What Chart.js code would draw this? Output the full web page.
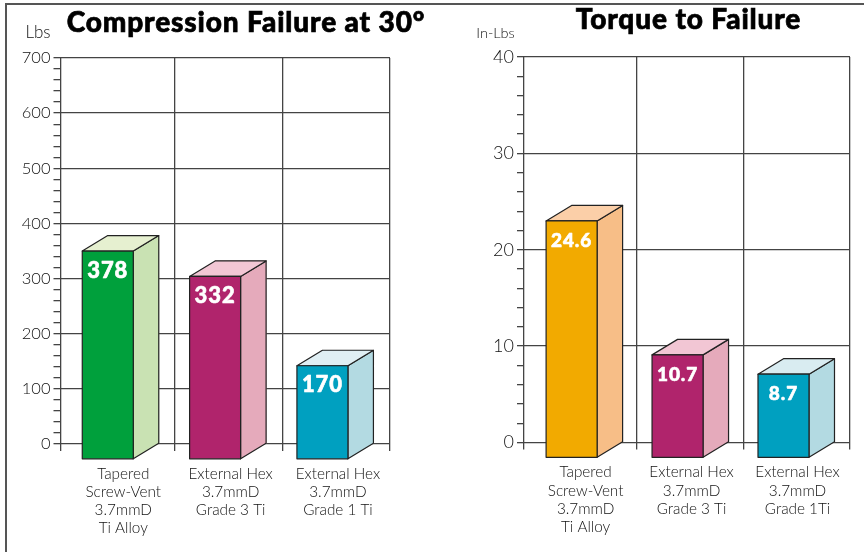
<!DOCTYPE html>
<html>
<head>
<meta charset="utf-8">
<title>Compression Failure and Torque to Failure</title>
<script src="https://cdn.jsdelivr.net/npm/chart.js@4/dist/chart.umd.min.js"></script>
<style>
  html, body { margin: 0; padding: 0; background: #fff; }
  #page { position: relative; width: 864px; height: 552px; overflow: hidden; }
  #frame { position: absolute; left: 5px; top: 3px; right: -5px; bottom: -5px; border-left: 2px solid #555; border-top: 2px solid #555; }
  .box { position: absolute; top: 0; width: 432px; height: 552px; }
  canvas { display: block; }
</style>
</head>
<body>
<div id="page">
  <div id="frame"></div>
  <div class="box" style="left:0"><canvas id="compression" width="432" height="552"></canvas></div>
  <div class="box" style="left:432px"><canvas id="torque" width="432" height="552"></canvas></div>
</div>
<script>
const compressionCategories = [
  ['Tapered', 'Screw-Vent', '3.7mmD', 'Ti Alloy'],
  ['External Hex', '3.7mmD', 'Grade 3 Ti'],
  ['External Hex', '3.7mmD', 'Grade 1 Ti']
];
const torqueCategories = [
  ['Tapered', 'Screw-Vent', '3.7mmD', 'Ti Alloy'],
  ['External Hex', '3.7mmD', 'Grade 3 Ti'],
  ['External Hex', '3.7mmD', 'Grade 1Ti']
];
const compressionValues = [378, 332, 170];
const torqueValues = [24.6, 10.7, 8.7];

const compressionFront = ['#00A03C', '#B0246C', '#00A0C0'];
const compressionSide = ['#C9E2B3', '#E5AABB', '#B3DAE2'];
const compressionTop = ['#E6F0D0', '#F2C6D4', '#E0EFF4'];
const torqueFront = ['#F2AA00', '#B0246C', '#00A0C0'];
const torqueSide = ['#F7BE87', '#E5AABB', '#B3DAE2'];
const torqueTop = ['#FBCFA8', '#F2C6D4', '#D9ECF1'];

const lightFont = 'Lato';
const heavyFont = 'Lato';
const depthX = 25.5;
const depthY = 15.5;

// the chart bar is the back of the box, the other faces hang off its coordinates
const boxPlugin = {
  id: 'box',
  afterDatasetsDraw(chart, args, opts) {
    const ctx = chart.ctx;
    const meta = chart.getDatasetMeta(0);
    ctx.save();
    ctx.lineJoin = 'round';
    meta.data.forEach((bar, i) => {
      const p = bar.getProps(['x', 'y', 'base', 'width'], true);
      const l = p.x - p.width / 2;
      const r = p.x + p.width / 2;
      const face = (color, pts) => {
        ctx.beginPath();
        pts.forEach((q, n) => n ? ctx.lineTo(q[0], q[1]) : ctx.moveTo(q[0], q[1]));
        ctx.closePath();
        ctx.fillStyle = color;
        ctx.fill();
        ctx.stroke();
      };
      ctx.lineWidth = 1.2;
      ctx.strokeStyle = '#222';
      face(opts.side[i], [[r - depthX, p.y + depthY], [r, p.y], [r, p.base], [r - depthX, p.base + depthY]]);
      face(opts.top[i], [[l - depthX, p.y + depthY], [l, p.y], [r, p.y], [r - depthX, p.y + depthY]]);
      face(opts.front[i], [[l - depthX, p.y + depthY], [r - depthX, p.y + depthY], [r - depthX, p.base + depthY], [l - depthX, p.base + depthY]]);
      ctx.fillStyle = '#fff';
      ctx.strokeStyle = '#fff';
      ctx.lineWidth = 0.6;
      ctx.font = '900 ' + opts.valueSize + 'px ' + heavyFont;
      ctx.letterSpacing = '0.9px';
      ctx.textAlign = 'center';
      ctx.textBaseline = 'middle';
      ctx.fillText(String(opts.values[i]), p.x - depthX, p.y + depthY + 19.5);
      ctx.strokeText(String(opts.values[i]), p.x - depthX, p.y + depthY + 19.5);
      ctx.letterSpacing = '0px';
    });
    ctx.restore();
  },
  afterDraw(chart, args, opts) {
    const ctx = chart.ctx;
    ctx.save();
    ctx.fillStyle = '#000';
    ctx.strokeStyle = '#000';
    ctx.lineWidth = 0.7;
    ctx.textAlign = 'center';
    ctx.textBaseline = 'alphabetic';
    ctx.font = '900 ' + opts.titleSize + 'px ' + heavyFont;
    ctx.letterSpacing = '0.88px';
    ctx.fillText(opts.title, opts.titleX, opts.titleY);
    ctx.strokeText(opts.title, opts.titleX, opts.titleY);
    ctx.letterSpacing = '0px';
    ctx.fillStyle = '#111';
    ctx.font = '300 ' + opts.unitSize + 'px ' + lightFont;
    ctx.fillText(opts.unit, opts.unitX, 38);
    ctx.restore();
  }
};

function makeChart(id, s) {
  // the scale asks once without a tick, so guard for that
  const isDivider = c => c.tick && !Number.isInteger(c.tick.value);
  const isMajor = c => c.tick && c.tick.value % s.major === 0;
  return new Chart(document.getElementById(id), {
    type: 'bar',
    data: {
      datasets: [{
        data: s.values.map((v, i) => ({ x: i, y: v })),
        backgroundColor: s.side,
        barThickness: 51
      }]
    },
    plugins: [boxPlugin],
    options: {
      responsive: false,
      animation: false,
      layout: { padding: { top: s.top, right: s.right, bottom: 0, left: 0 } },
      plugins: {
        legend: { display: false },
        tooltip: { enabled: false },
        box: {
          side: s.side, top: s.topFace, front: s.front, values: s.values,
          valueSize: s.valueSize, title: s.title, titleSize: s.titleSize,
          titleX: s.titleX, titleY: s.titleY, unit: s.unit, unitX: s.unitX, unitSize: s.unitSize
        }
      },
      scales: {
        x: {
          type: 'linear',
          offset: false,
          min: s.xMin,
          max: s.xMax,
          afterBuildTicks(scale) {
            scale.ticks = [s.xMin, 0, s.dividers[0], 1, s.dividers[1], 2, s.xMax].map(v => ({ value: v }));
          },
          afterFit(scale) { scale.height = s.xHeight; },
          border: { display: false },
          grid: {
            offset: false,
            color: c => isDivider(c) ? '#444' : 'transparent',
            tickColor: c => isDivider(c) ? '#444' : 'transparent',
            lineWidth: 1.3,
            tickLength: 7
          },
          ticks: {
            autoSkip: false,
            maxRotation: 0,
            labelOffset: s.labelOffset,
            padding: 14,
            color: '#111',
            font: { family: lightFont, weight: 300, size: 15.3, lineHeight: 1.18 },
            callback: v => Number.isInteger(v) ? s.categories[v] : ''
          }
        },
        y: {
          min: 0,
          max: s.yMax,
          afterBuildTicks(scale) {
            const t = [];
            for (let v = 0; v <= s.yMax; v += s.minor) t.push({ value: v });
            scale.ticks = t;
          },
          afterFit(scale) { scale.width = s.yWidth; },
          border: { display: false },
          grid: {
            color: c => isMajor(c) ? '#444' : 'transparent',
            tickColor: '#444',
            lineWidth: 1.3,
            tickLength: 7
          },
          ticks: {
            autoSkip: false,
            padding: 3,
            color: '#111',
            font: { family: lightFont, weight: 300, size: s.tickSize },
            callback: v => v % s.major === 0 ? String(v) : ''
          }
        }
      }
    }
  });
}

makeChart('compression', {
  values: compressionValues, categories: compressionCategories,
  front: compressionFront, side: compressionSide, topFace: compressionTop,
  title: 'Compression Failure at 30°', titleSize: 28, titleX: 246, titleY: 32,
  unit: 'Lbs', unitX: 38, unitSize: 17, valueSize: 22, tickSize: 16.5,
  top: 58, right: 42, xHeight: 108, labelOffset: -10, yWidth: 60.5,
  xMin: -0.678, xMax: 2.392, dividers: [0.384, 1.39],
  yMax: 700, major: 100, minor: 20
});

makeChart('torque', {
  values: torqueValues, categories: torqueCategories,
  front: torqueFront, side: torqueSide, topFace: torqueTop,
  title: 'Torque to Failure', titleSize: 28, titleX: 256.5, titleY: 29,
  unit: 'In-Lbs', unitX: 63.5, unitSize: 14.5, valueSize: 19, tickSize: 18,
  top: 57, right: 12, xHeight: 109.5, labelOffset: -11.5, yWidth: 92,
  xMin: -0.69, xMax: 2.387, dividers: [0.377, 1.384],
  yMax: 40, major: 10, minor: 2
});
</script>
</body>
</html>
